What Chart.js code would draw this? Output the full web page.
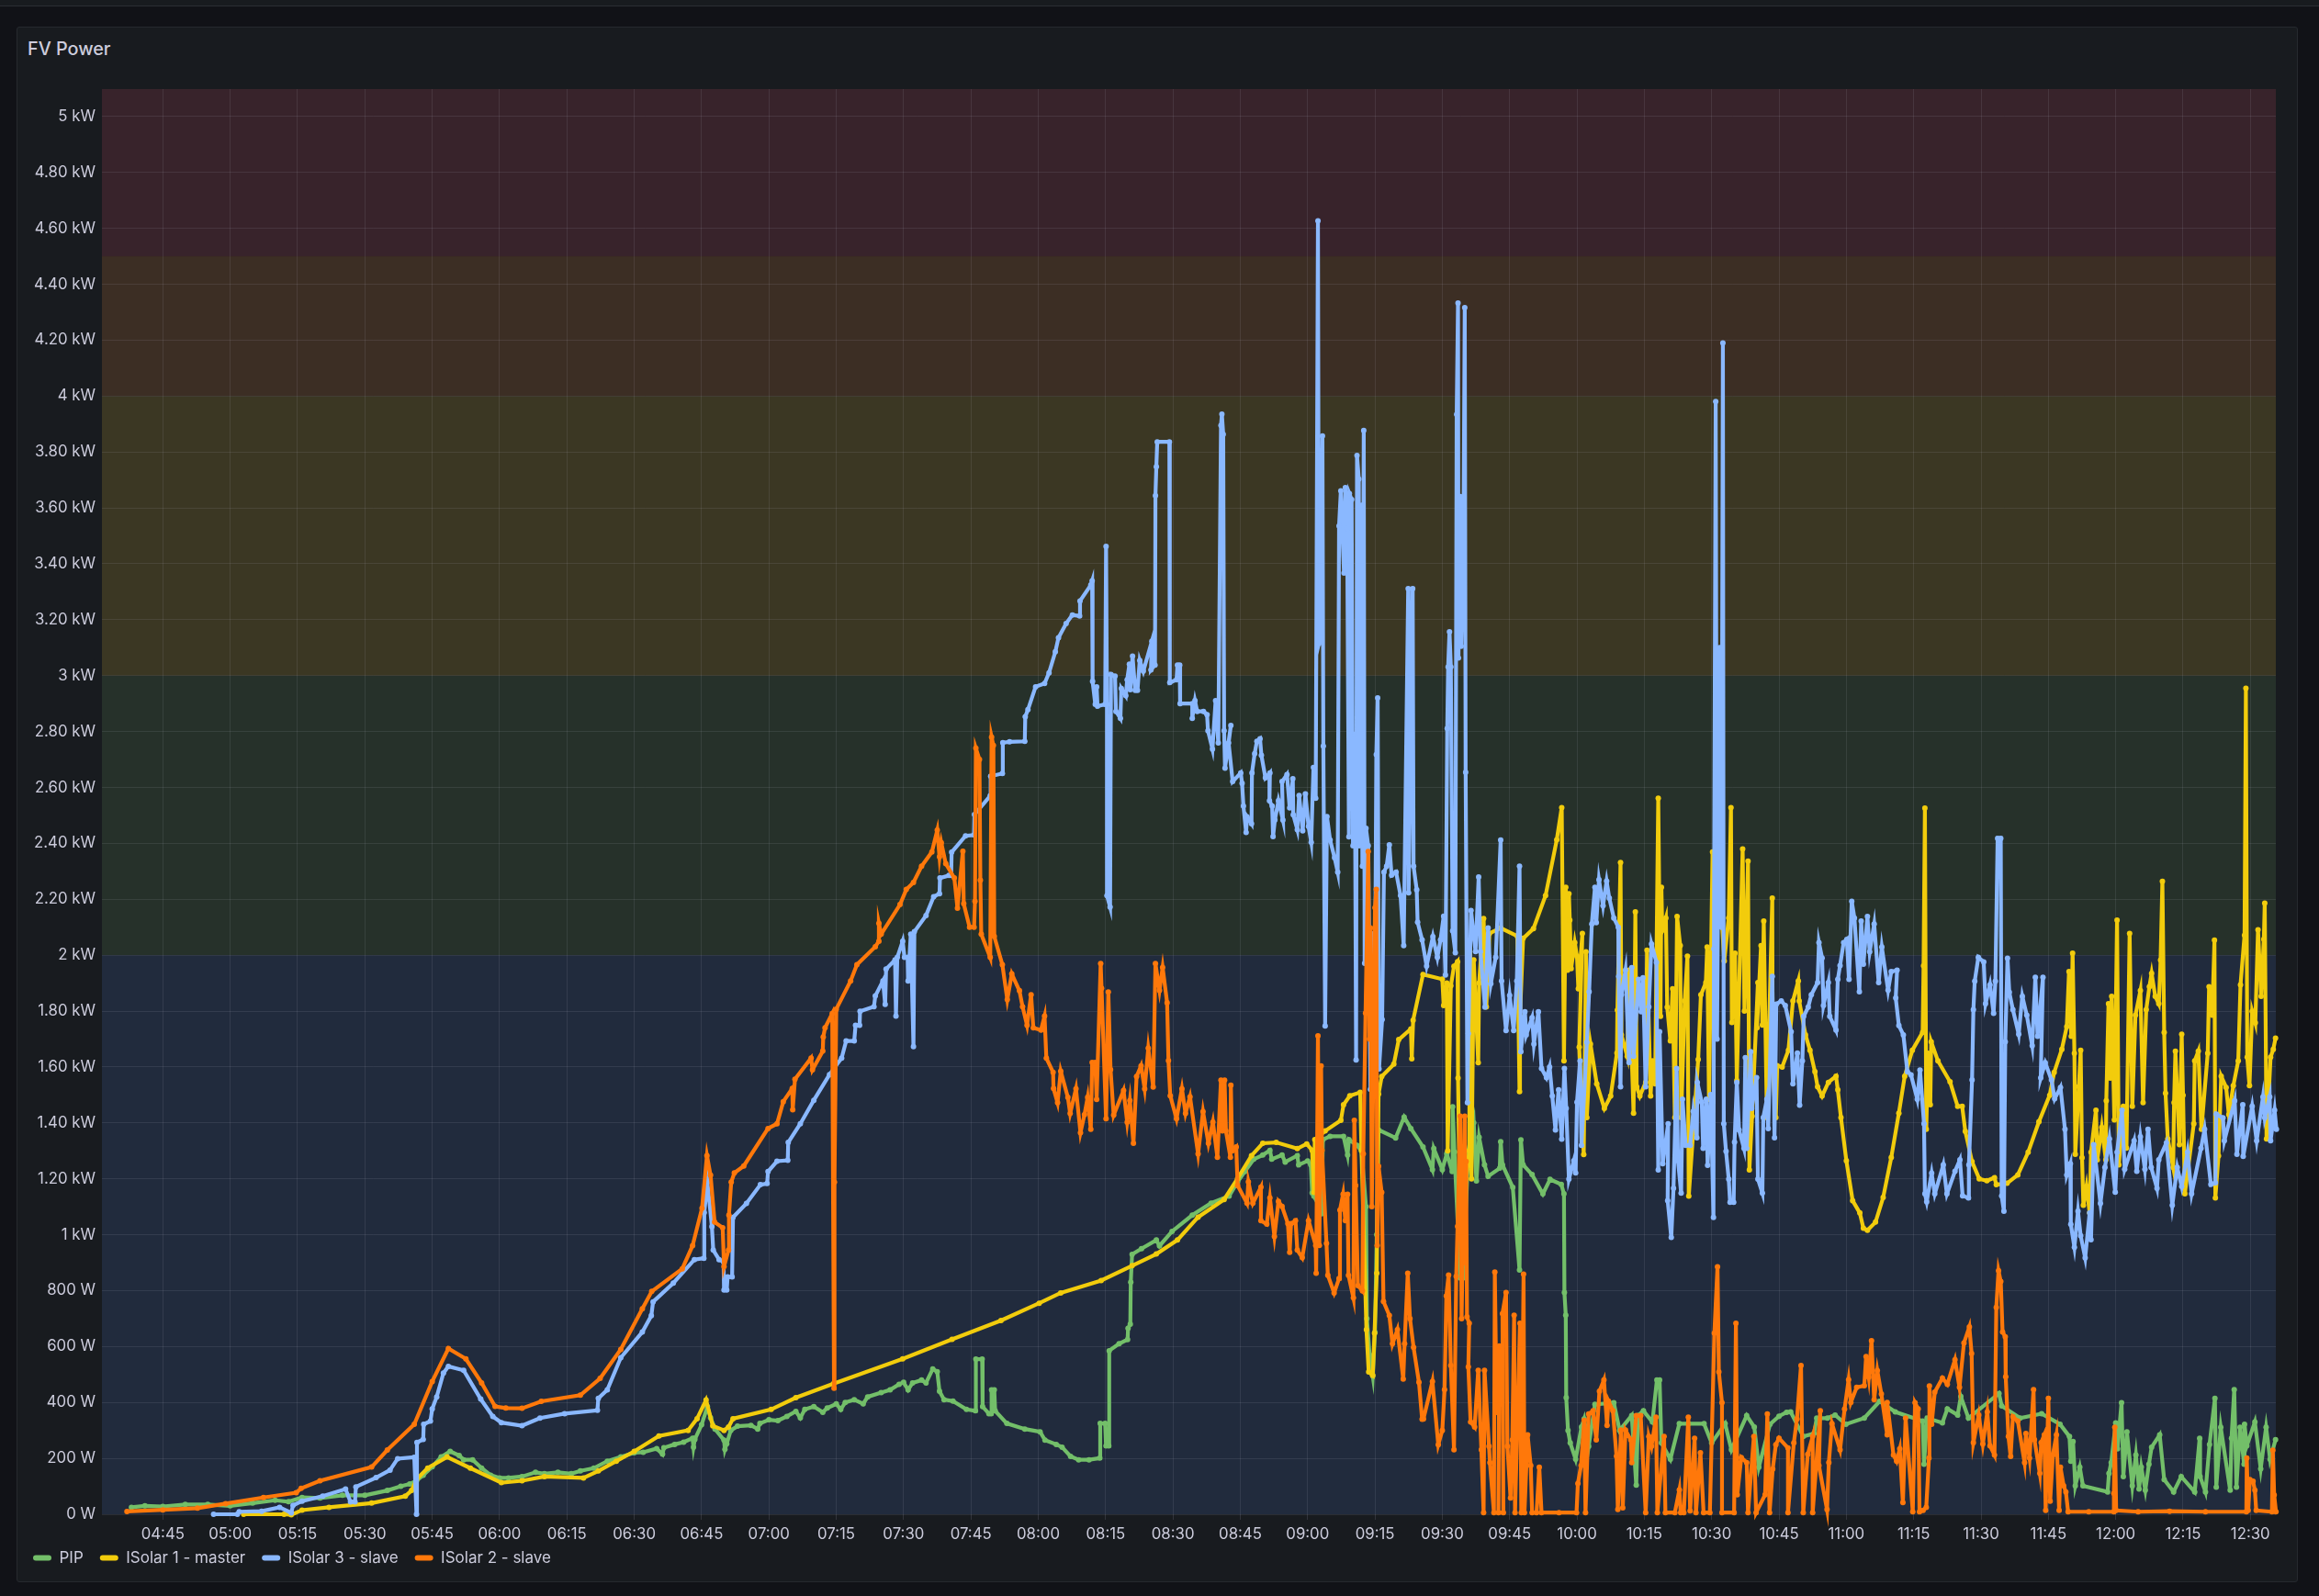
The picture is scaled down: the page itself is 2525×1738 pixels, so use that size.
<!DOCTYPE html>
<html><head><meta charset="utf-8">
<script src="https://cdn.jsdelivr.net/npm/chart.js@4"></script>
<style>
html,body{margin:0;padding:0;background:#111217;width:2525px;height:1738px;overflow:hidden}
#topbar{position:absolute;left:0;top:0;width:2525px;height:6px;background:#181b1f;border-bottom:1px solid #2b2e33}
#panel{position:absolute;left:18px;top:29px;width:2482px;height:1692px;background:#181b1f;border:1px solid #26292e;border-radius:3px}
#title{position:absolute;left:30px;top:41px;font:500 19.8px Inter,sans-serif;color:#ccccdc;line-height:24px}
canvas{position:absolute;left:0;top:0}
</style></head><body>
<div id="topbar"></div><div id="panel"></div><div id="title">FV Power</div>
<canvas id="c" width="2525" height="1738"></canvas>
<script>
const xMin=271.43, xMax=755.67, yMin=0, yMax=5098;
const xTickMinutes=[285,300,315,330,345,360,375,390,405,420,435,450,465,480,495,510,525,540,555,570,585,600,615,630,645,660,675,690,705,720,735,750];
const xTickLabels=["04:45","05:00","05:15","05:30","05:45","06:00","06:15","06:30","06:45","07:00","07:15","07:30","07:45","08:00","08:15","08:30","08:45","09:00","09:15","09:30","09:45","10:00","10:15","10:30","10:45","11:00","11:15","11:30","11:45","12:00","12:15","12:30"];
const yTickValues=[0,200,400,600,800,1000,1200,1400,1600,1800,2000,2200,2400,2600,2800,3000,3200,3400,3600,3800,4000,4200,4400,4600,4800,5000];
const yTickLabels=["0 W","200 W","400 W","600 W","800 W","1 kW","1.20 kW","1.40 kW","1.60 kW","1.80 kW","2 kW","2.20 kW","2.40 kW","2.60 kW","2.80 kW","3 kW","3.20 kW","3.40 kW","3.60 kW","3.80 kW","4 kW","4.20 kW","4.40 kW","4.60 kW","4.80 kW","5 kW"];
const bandStarts=[0,2000,3000,4000,4500];
const bandColors=["#212b3d","#26312a","#3b3723","#3c2e24","#38232b"];
const seriesNames=["PIP","ISolar 1 - master","ISolar 3 - slave","ISolar 2 - slave"];
const seriesColors=["#73bf69","#f2cc0c","#8ab8ff","#ff780a"];

// each entry: [minutes since midnight, watts]
const pipReadings=[[278,25],[281,30],[285,28],[290,35],[295,35],[300,30],[305,40],[310,50],[313,45],[316,60],[320,58],[325,68],[330,68],[335,85],[338,100],[340,108],[341.5,120],[343,140],[345,170],[347,205],[349,225],[351,210],[352,195],[354,195],[356,165],[358,140],[360,130],[362,130],[365,135],[368,150],[370,145],[373,150],[376,145],[378,155],[381,165],[384,190],[387,205],[390,220],[392,222],[395,235],[396.3,215],[396.6,238],[399,250],[401,258],[403,272],[403.2,240],[403.5,268],[405,320],[406.3,385],[407,345],[408,305],[410,265],[410.2,232],[410.6,252],[411.5,300],[413,315],[416,318],[417.5,305],[418,325],[420,338],[422,335],[424,350],[426,368],[427,345],[428,375],[430,385],[432,365],[433,380],[435,395],[436,375],[437,400],[439,410],[441,395],[442,420],[445,435],[447,445],[449,465],[450,472],[451,445],[452,470],[454,480],[455,470],[456.5,520],[457.5,510],[458,440],[459,410],[461,405],[464,375],[466,370],[466.1,555],[467.5,555],[467.6,385],[469,360],[469.5,360],[469.6,445],[470.2,445],[470.4,370],[473,325],[477,305],[480.4,295],[481.5,265],[484,250],[485.3,240],[487.2,207],[489,195],[491.3,195],[493.7,201],[493.8,325],[494.9,325],[495.1,245],[495.7,245],[495.8,585],[498,610],[499.9,625],[500,665],[500.5,680],[500.6,830],[500.9,930],[503,950],[506.3,981],[507,960],[509.8,1012],[514.3,1070],[518.5,1113],[522.5,1138],[524.4,1189],[526,1226],[528,1270],[530,1285],[531.6,1302],[532,1270],[534.3,1285],[535,1260],[537.7,1283],[538,1250],[540,1264],[540.7,1250],[541,1150],[541.4,1138],[541.6,1300],[543,1330],[543.1,1075],[543.4,1340],[545,1352],[548,1352],[548.9,1285],[549.2,1340],[551,1320],[552,1300],[553,1100],[553.2,700],[553.8,570],[554.5,495],[555,650],[555.4,1000],[555.8,1375],[559.6,1346],[561.5,1421],[563,1380],[565.7,1314],[567.8,1233],[568.1,1308],[570,1233],[571,1290],[572.2,1226],[572.3,1458],[572.7,1296],[574,845],[574.6,845],[575.8,1300],[577,1400],[577.6,1192],[578.2,1348],[579.4,1250],[580.2,1209],[582.8,1238],[583,1333],[583.4,1250],[585.7,1169],[587.2,874],[587.5,1339],[588,1250],[590,1215],[592.4,1146],[594,1198],[596.5,1180],[597.1,1146],[597.2,793],[597.5,712],[597.6,417],[598,300],[598.5,255],[599.7,197],[601,312],[601.6,341],[602.6,243],[604,393],[608.2,399],[609.5,300],[612.2,353],[613.2,104],[613.6,353],[614.8,370],[616.8,330],[617.8,480],[618.4,480],[618.8,255],[620.8,197],[622.8,324],[624.8,324],[628.3,324],[630,255],[633,324],[634.4,231],[637.8,353],[639.5,312],[640.5,168],[643,322],[645,351],[646.7,365],[647.6,366],[650.4,278],[652.8,289],[653.4,344],[655.8,344],[657.5,355],[659.9,322],[664,344],[667.4,404],[670.9,366],[677,333],[677.3,179],[678,344],[681.4,327],[682.5,377],[684.8,355],[685.5,421],[687.2,344],[694,432],[694.6,388],[698.7,344],[703.5,360],[707.6,322],[709.7,278],[710,190],[710.5,260],[711,102],[712,168],[712.7,102],[718.2,80],[718.5,146],[719,185],[720,327],[720.4,234],[721.3,399],[721.7,135],[722.5,295],[723.7,102],[724.5,212],[725.2,90],[725.7,168],[726.6,86],[727.4,179],[728,240],[729.8,284],[730.8,124],[732.9,80],[734.6,135],[737.6,80],[738.7,272],[738.8,135],[740,80],[740.9,250],[742.1,415],[742.4,97],[743.4,311],[745.5,86],[745.8,272],[746.4,446],[746.9,97],[747.7,311],[748.6,179],[748.7,322],[749.2,245],[751,330],[752.3,163],[753.5,311],[754.4,196],[755.6,267]];

const isolar1Readings=[[303,0],[312,0],[313.6,-2],[316,15],[322,25],[331.5,40],[339,65],[340.4,85],[341.5,125],[344,165],[348.3,205],[353.5,165],[360.4,113],[365,120],[370,135],[378.7,130],[382,155],[386,190],[390,225],[395.5,280],[402,300],[404,342],[406,409],[407.5,316],[410,300],[411,312],[412,342],[420.5,375],[426,417],[434.4,467],[449.8,556],[460.8,626],[471.7,693],[480.2,755],[485,792],[494,836],[500.9,889],[506.3,931],[511,981],[515.6,1063],[521.4,1126],[524.4,1201],[527.5,1283],[530,1327],[533,1330],[537.7,1308],[539.8,1325],[541,1302],[541.4,1151],[541.6,1340],[543.9,1371],[547.4,1409],[548,1465],[549.4,1497],[551.7,1509],[552,1302],[553.1,660],[553.6,509],[554.5,497],[554.9,648],[555.4,862],[555.8,1503],[556.5,1566],[559.2,1610],[560.3,1698],[563,1736],[563.2,1629],[563.5,1767],[565.7,1931],[570,1914],[570.3,1820],[571,1900],[571.2,1300],[571.9,1890],[572.6,1960],[573.4,1977],[573.5,1560],[574,1000],[576,1300],[576.2,2055],[576.5,1200],[577,1983],[578,1615],[578.2,1900],[579.2,2131],[579.8,1815],[580.5,2078],[583,2097],[586.7,2068],[587.2,1512],[587.3,1780],[588,2060],[590.3,2095],[593,2213],[595.5,2413],[596.6,2528],[597.1,1622],[597.5,2243],[597.9,1946],[598.2,2220],[598.4,2125],[598.7,1952],[599.5,2045],[600,1996],[600.3,1880],[601.2,2078],[600.5,1671],[601.5,1287],[602,2012],[602.2,1419],[603,1682],[604.4,1540],[606.1,1452],[607.5,1496],[608.9,1650],[609,1803],[609.7,2331],[609.9,1715],[611.2,1638],[611.6,1946],[612.6,1435],[613,2155],[613.3,1529],[614,1496],[615.3,1545],[615.6,2018],[616.4,1496],[616.8,1622],[617.4,1540],[618.1,2561],[618.6,1781],[618.8,2243],[619,2089],[619.8,2133],[620.1,1814],[620.8,1693],[621.3,1880],[621.8,1419],[622.3,2138],[623,2034],[623.2,1419],[624,1836],[624.6,1996],[624.9,1138],[627,1627],[627.6,1858],[628.7,1902],[629,2029],[629.4,1485],[630.2,2369],[631,2078],[631.7,2276],[632.8,1979],[633.8,2133],[634.3,2528],[634.5,1759],[635.2,2007],[635.6,1551],[636.9,2380],[637.3,1800],[638.1,2336],[638.4,1232],[639,1424],[640.3,1902],[640.1,1740],[641,2034],[641.3,1750],[641.6,2122],[642.3,1419],[643.5,2204],[643.6,1583],[644.3,1419],[644.6,1605],[645.7,1600],[647.1,1660],[648.1,1836],[649.3,1908],[649.5,1836],[650.9,1715],[651.9,1660],[653,1583],[653.6,1529],[654.6,1496],[656,1545],[657.7,1567],[658.1,1518],[658.8,1419],[660,1265],[661.4,1122],[663,1078],[663.8,1023],[664.7,1016],[666.5,1045],[668.2,1133],[670,1276],[671.7,1435],[673,1567],[674.7,1660],[677,1724],[677.2,1962],[677.5,2526],[677.8,1377],[678.2,1649],[678.7,1465],[678.9,1690],[680.4,1622],[683.1,1547],[684.8,1459],[685.8,1459],[686.5,1370],[688,1261],[689.6,1200],[691.3,1193],[693,1204],[693.4,1179],[695.8,1184],[698.2,1214],[700.5,1295],[702.9,1404],[705.3,1499],[706.3,1581],[708,1663],[709.1,1744],[709.6,1941],[710.1,1710],[710.4,2007],[710.8,1649],[711,1288],[711.8,1530],[712.2,1660],[712.5,1275],[712.8,1105],[713.5,1173],[714.2,1078],[714.5,1295],[715.6,1445],[715.9,1268],[716.9,1384],[717.8,1268],[717.9,1479],[718.4,1826],[718.8,1560],[719.1,1853],[719.7,1411],[720.3,2125],[720.7,1250],[721.7,1459],[722.4,1310],[723.1,2078],[723.7,1459],[724.4,1785],[725.5,1873],[726.1,1472],[726.8,1805],[727.5,1887],[728,1935],[728.8,1853],[729.6,1826],[730,1982],[730.4,2264],[730.8,1724],[731.1,1506],[731.6,1343],[732.8,1241],[733,1472],[733.3,1656],[734.2,1322],[734.7,1717],[735,1499],[735.4,1146],[737.4,1397],[737.6,1622],[738.4,1656],[739.1,1377],[740.5,1649],[740.8,1887],[741.5,1785],[742,2054],[742.2,1132],[742.9,1282],[743.5,1567],[744.6,1527],[745.2,1430],[746.2,1533],[747.3,1622],[747.8,1894],[748.7,2071],[749,2955],[749.3,1635],[749.8,1533],[750.4,1799],[751.1,1758],[751.7,2091],[752.4,1853],[753,2057],[753.2,2186],[753.6,1343],[754.5,1635],[755.1,1663],[755.6,1703]];

const isolar3Readings=[[296.3,0],[301.6,0],[302,9],[307,11],[311,25],[313.6,5],[314,32],[316,47],[320.6,65],[325.7,90],[326.8,44],[327.8,44],[328,98],[332.5,131],[335.6,158],[337.3,199],[341,204],[341.5,0],[341.6,257],[343,268],[343.1,322],[344.6,333],[345,377],[346,420],[347.5,505],[348.6,529],[352,515],[355.8,412],[358.5,350],[360.4,328],[365,317],[369,344],[374.5,360],[381.8,372],[382,415],[384,445],[387,560],[391.8,652],[393.8,710],[394.2,760],[398.7,827],[403.4,911],[405.5,916],[405.6,1079],[406.3,1188],[407.3,1029],[407.6,945],[408.9,911],[409.9,903],[410,802],[410.6,802],[410.8,849],[411.8,849],[412,1062],[415,1112],[418.1,1179],[419.6,1183],[419.8,1226],[421.8,1263],[424.2,1266],[424.3,1330],[427,1397],[430,1481],[433.5,1573],[436.2,1632],[437.2,1693],[439,1693],[439.3,1749],[440.2,1749],[440.3,1799],[443.4,1816],[443.7,1854],[445.4,1908],[445.9,1824],[446.1,1950],[448.1,1983],[448.3,1782],[448.6,1992],[449.8,2050],[450.2,1992],[450.9,1992],[451,1908],[451.6,2075],[452.2,1673],[452.4,2084],[455,2142],[456.7,2209],[458,2220],[458.1,2276],[460.1,2285],[460.6,2285],[460.7,2368],[463.8,2427],[465.7,2430],[465.8,2503],[469.3,2570],[469.4,2640],[472,2650],[472.1,2760],[473.6,2763],[477,2765],[477.1,2853],[477.7,2878],[479.4,2960],[481.4,2972],[482.4,3010],[483.8,3085],[484.5,3135],[486.2,3186],[487.6,3217],[489.2,3213],[489.3,3267],[491.7,3324],[492,3339],[492.1,2979],[492.7,2897],[493,2960],[493.2,2891],[494.9,2897],[495.1,3462],[495.3,2897],[495.3,2213],[496,2172],[496.2,3004],[497.1,2998],[497.3,2872],[498.3,2847],[498.5,2954],[499.5,2928],[499.8,2985],[500.3,3041],[500.5,2950],[501,3070],[501.6,2947],[502.1,2947],[502.6,3054],[503.4,3016],[505.3,3123],[505.1,3020],[506,3038],[506.1,3644],[506.3,3747],[506.5,3836],[509.2,3836],[509.3,2975],[510.8,2985],[511,3038],[511.5,3038],[511.6,2900],[514.3,2900],[514.3,2847],[514.9,2910],[515.4,2872],[516.8,2872],[517.6,2860],[517.8,2803],[518.8,2737],[519.5,2910],[520.1,2759],[520.7,3895],[520.9,3935],[521.2,3863],[521.4,2803],[521.6,2669],[522.9,2822],[522.4,2759],[523.3,2621],[525.1,2652],[525.4,2615],[525.7,2533],[526.3,2439],[526.5,2495],[527.5,2470],[527.6,2652],[528.2,2721],[528.7,2765],[529.4,2774],[529.7,2715],[530.6,2634],[531.6,2652],[531.5,2552],[532.1,2533],[532.3,2424],[532.7,2483],[533.5,2552],[534.5,2483],[534.3,2621],[535.4,2646],[536,2527],[536.7,2631],[536.8,2502],[537.7,2449],[538.1,2571],[538.9,2445],[539.5,2577],[540.2,2460],[540.8,2404],[541.3,2671],[541.8,2561],[542.3,4627],[542.5,3115],[542.8,3136],[543.3,3857],[543.5,2748],[543.9,1747],[544.3,2496],[545,2412],[546,2349],[546.7,2297],[547,3535],[547.4,3661],[548.1,3367],[548.4,3672],[548.8,3525],[549.2,2423],[549.3,3651],[549.8,3630],[550.1,2391],[550.5,2790],[550.8,1625],[551,3787],[551.4,3703],[551.5,2391],[552,3609],[552.2,2318],[552.5,3877],[552.7,1971],[553,2454],[553.5,2391],[554,1520],[554.4,2076],[554.9,1530],[555.3,2717],[555.6,2920],[555.9,1593],[556.6,1770],[557,2297],[557.6,2318],[558.2,2395],[558.7,2286],[559.7,2297],[560.7,2213],[561.4,2034],[562.4,3311],[562.5,2223],[563.4,3311],[563.6,2318],[564.3,2234],[564.5,2118],[565.5,2055],[566.5,1961],[567.9,2066],[568.9,1992],[569.6,2055],[570.3,2139],[570.7,1929],[571.1,2811],[571.3,3031],[571.6,3157],[571.9,3031],[572.3,2087],[572.9,2009],[573.2,3934],[573.5,4333],[573.6,3063],[574,3640],[574.2,3105],[574.7,3451],[575,4316],[575.2,2654],[575.6,1472],[575.8,1720],[576.4,2160],[577.4,2013],[578.1,2280],[578.5,2013],[579.5,1814],[580.2,2097],[580.8,1898],[581.9,1992],[583,2412],[583.2,1908],[584.2,1730],[585,1856],[585.9,1730],[586.6,1908],[587.2,2318],[587.5,1655],[588.4,1798],[588.7,1715],[590,1776],[590.4,1682],[591.4,1798],[592.1,1595],[593.2,1562],[593.9,1600],[594.5,1496],[595.2,1375],[595.9,1518],[596.6,1342],[597.2,1595],[597.6,1452],[598.2,1199],[599.3,1265],[599.7,1221],[600,1474],[600.7,1622],[601,1320],[602.2,1688],[602.7,1869],[603.3,2111],[604,2243],[604.3,2116],[604.9,2270],[605.8,2177],[606.6,2265],[607.2,2204],[608.2,2133],[609.2,2100],[609.3,1924],[609.7,1529],[609.9,1858],[610.8,1946],[611.6,1616],[612.2,1955],[612.6,1638],[613.7,1913],[614.3,1798],[614.7,1919],[615.3,1529],[616,1815],[616.6,2040],[617.7,1974],[618.1,1232],[618.4,1726],[619.1,1254],[620.3,1397],[620.2,1122],[621,990],[621.5,1166],[622.2,1595],[622.5,1265],[623.2,1149],[623.5,1485],[624.2,1320],[625.2,1320],[625.9,1441],[626.7,1347],[626.8,1545],[627.8,1474],[628.1,1309],[628.8,1485],[629.1,1248],[629.8,1501],[630.4,1062],[630.5,2023],[630.9,3980],[631.2,1700],[631.8,3100],[632.2,2100],[632.5,4190],[632.7,1397],[633.2,1298],[633.8,1199],[634.1,1116],[634.9,1116],[635.1,1331],[635.6,1545],[636.1,1375],[637.2,1309],[637.5,1633],[637.8,1309],[638.7,1655],[638.9,1452],[640,1562],[640.3,1199],[641.3,1149],[641.5,1419],[642.3,1485],[642.6,1380],[643.5,1924],[644,1347],[644.4,1825],[645.5,1836],[646.4,1820],[647.7,1726],[648.1,1540],[649.1,1650],[649.6,1463],[650.2,1622],[650.5,1781],[651.5,1814],[652.2,1858],[653.6,1902],[653.9,2045],[654.6,1990],[654.9,1820],[656,1902],[656.3,1781],[657.7,1732],[658.1,1913],[658.6,1963],[659.4,2045],[660.1,2056],[660.6,1913],[661.2,2193],[661.8,2133],[662.9,1869],[663.3,2122],[663.8,1968],[664.7,2138],[665.2,2012],[666.2,2111],[667.2,1902],[667.9,2029],[669.3,1875],[670,1941],[671.3,1946],[671,1847],[671.7,1748],[672.7,1715],[673.6,1583],[674.4,1572],[675.8,1485],[676.4,1589],[677.3,1397],[677.5,1146],[677.9,1118],[679,1220],[679.7,1146],[681.6,1250],[682.4,1146],[684.2,1227],[685.3,1268],[685.9,1139],[687.2,1132],[687.3,1250],[688,1554],[688.3,1805],[688.6,1907],[689.4,1992],[690.6,1976],[691,1826],[692,1894],[692.8,1792],[693.2,1907],[693.7,2418],[694.4,2418],[694.6,1139],[695.1,1084],[695.4,1690],[695.9,1989],[696.3,1867],[697.1,1805],[698.4,1717],[699.2,1853],[700.2,1785],[701.4,1676],[702.1,1921],[702.6,1710],[703.8,1921],[703.3,1561],[704.3,1615],[705.7,1554],[706.4,1486],[707.7,1527],[708.7,1377],[709.1,1214],[709.9,1254],[710,1037],[710.8,955],[711.6,1084],[712.2,996],[713.2,917],[714.2,1078],[714.5,982],[715.1,1322],[716.6,1112],[717.6,1241],[718.6,1343],[719.9,1152],[720.3,1295],[721.4,1445],[722,1234],[724.1,1336],[724.7,1227],[725.5,1350],[726.5,1234],[727.2,1377],[727.9,1241],[729.2,1166],[729.6,1268],[731.3,1329],[732.6,1105],[733.7,1241],[734.7,1173],[736,1295],[736.9,1146],[739,1309],[739.8,1377],[741.2,1180],[742.2,1186],[742.4,1431],[743.9,1418],[744.2,1336],[746.5,1479],[747,1288],[748.3,1465],[748.4,1280],[750.4,1459],[751.4,1336],[752.8,1493],[753.2,1418],[754.3,1493],[754.5,1336],[755.4,1445],[755.8,1377]];

const isolar2Readings=[[277,10],[285,16],[292.7,22],[299,38],[307.4,60],[314.7,77],[315.8,93],[320,120],[331.5,169],[335,230],[341,322],[345,475],[348.6,593],[352.5,556],[356,470],[359,386],[361.4,380],[365,379],[369.3,404],[378,426],[382.4,486],[387,590],[391.8,735],[393.9,797],[400.7,878],[403,961],[405.1,1095],[406.2,1283],[407,1213],[407.9,1045],[409.7,1025],[410,886],[411,945],[411.1,1070],[411.6,1188],[412.3,1221],[414.4,1246],[419.8,1380],[421.8,1397],[423.2,1476],[425.2,1523],[425.3,1447],[425.8,1556],[429.4,1632],[429.7,1590],[432,1657],[432.1,1707],[432.5,1740],[434.1,1791],[434.5,451],[434.6,1188],[435,1807],[438.2,1908],[439.6,1966],[443.7,2030],[444.5,2050],[444.5,2114],[445,2075],[449.2,2181],[450.6,2235],[452.2,2260],[454,2318],[456.3,2369],[457.5,2447],[458,2352],[458.4,2402],[459.4,2327],[461.3,2276],[462,2168],[463.2,2372],[463.4,2184],[464.7,2100],[465.7,2100],[465.9,2193],[466.1,2740],[466.9,2700],[467.1,2268],[467.3,2075],[469.3,1992],[469.6,2780],[470,2750],[470.2,2067],[472,1966],[473.1,1841],[474.1,1933],[475.8,1873],[476.5,1816],[477.5,1749],[478.4,1858],[478.9,1740],[480.6,1732],[481.4,1782],[481.8,1632],[483.3,1581],[483.4,1523],[484.3,1472],[485,1585],[486.6,1491],[487.1,1434],[488.4,1522],[489.4,1365],[490.3,1430],[491,1491],[491.7,1377],[492,1616],[492.7,1616],[493,1484],[493.9,1970],[494.1,1881],[495.1,1415],[495.6,1868],[496.1,1591],[496.8,1428],[499,1516],[499.8,1403],[500.4,1480],[501.2,1327],[501.9,1566],[502.9,1604],[503.7,1522],[504.5,1667],[505.6,1528],[506.1,1970],[507,1874],[507.7,1956],[508.7,1830],[509,1623],[509.4,1497],[510.8,1415],[512,1522],[512.8,1434],[513.8,1493],[515.6,1289],[516.7,1440],[517.9,1327],[518.9,1403],[519.9,1277],[520.7,1553],[521,1371],[521.5,1553],[521.8,1371],[522.8,1277],[522.9,1535],[523.2,1300],[524.1,1314],[524.4,1176],[526.5,1113],[526.8,1189],[527.8,1113],[529.6,1170],[529.6,1050],[530.9,1038],[531.6,1132],[532.6,994],[533.5,1119],[534.3,1101],[535.6,1040],[536,937],[536.3,1040],[537.3,1050],[537.7,945],[538.8,918],[540.2,1050],[541.8,962],[541.9,862],[542.3,1711],[542.6,962],[543,1604],[543.2,1302],[544.2,969],[544.5,855],[545.9,792],[547,843],[547.2,1088],[547.9,1145],[548.4,1050],[548.9,1145],[549.1,855],[550.2,774],[550.4,1409],[550.7,1176],[551.2,818],[552.2,799],[552.4,1289],[552.9,1793],[553.5,2371],[553.8,1700],[554,2097],[554.3,1100],[555,2170],[555.3,2235],[555.5,962],[555.8,1245],[556.5,1151],[556.9,761],[558.2,711],[558.9,610],[560,660],[561.3,484],[561.6,610],[562.3,862],[562.8,700],[563.6,597],[564.8,472],[565.5,340],[565.8,341],[567.8,475],[569.1,249],[570,300],[570.5,446],[570.9,781],[571.4,856],[571.9,532],[572.6,231],[573.1,851],[573.4,1030],[574,1424],[574.3,700],[575,1424],[575.1,900],[575.3,1262],[575.5,706],[576,683],[575.8,527],[576.3,330],[577.2,312],[578,515],[578.7,231],[579.2,6],[579.4,515],[580.4,243],[580.6,185],[581.5,6],[581.7,866],[582.1,365],[582.7,602],[582.5,6],[583.6,6],[583.4,718],[584.2,793],[584.5,243],[585.2,58],[585.6,266],[586,712],[586.2,6],[587.3,683],[587.6,6],[588.1,859],[588.3,6],[589,284],[589.7,174],[590,6],[591,6],[591.6,168],[592.1,6],[596,6],[599.9,6],[600.2,110],[600.9,174],[601.6,336],[601.9,6],[602.6,359],[603.6,370],[604.3,266],[605,440],[606,480],[606.7,318],[607,405],[608,370],[608.8,208],[609.1,17],[609.8,301],[610.2,23],[610.8,301],[612,266],[612.2,185],[613.2,353],[614.2,353],[615.3,6],[616,278],[616.6,243],[617.6,347],[617.9,6],[619.4,278],[619.7,6],[621.8,6],[622.8,87],[623.1,6],[623.8,6],[624.8,347],[625.2,12],[626.2,272],[626.5,6],[627.5,220],[628.2,6],[629.6,6],[630.6,648],[631.3,885],[631.6,509],[632.3,399],[632.3,6],[635,6],[635.4,683],[635.7,70],[636.6,203],[637.8,185],[638.1,6],[639.4,278],[639.9,6],[641.9,70],[642.4,359],[642.9,6],[643.6,162],[644.3,249],[645,272],[647,237],[647,6],[648.3,255],[649,341],[649.9,532],[650.4,6],[651.4,214],[652.5,278],[652.5,6],[654.2,370],[653.9,174],[655.7,17],[656.1,185],[656.8,324],[658.6,231],[659.6,376],[660.5,481],[661,400],[662.3,454],[664,460],[664.4,564],[665,490],[665.6,621],[666.2,410],[666.9,514],[667.8,430],[669.1,284],[669.1,400],[670.5,212],[671.2,190],[671.9,234],[672.6,42],[673.2,344],[674.8,9],[675.3,399],[676,377],[676.3,9],[677.1,14],[677.8,25],[678.4,201],[678.5,459],[679,322],[679.7,437],[681.4,487],[682.5,465],[684.2,553],[685.2,454],[686.2,613],[687.4,670],[687.9,575],[688.3,256],[689.5,355],[690.4,251],[691.4,366],[692,245],[693,212],[693.4,740],[693.9,871],[694.4,833],[694.8,652],[695.4,635],[695.5,492],[696.1,278],[696.6,207],[697.1,349],[698.2,333],[699.7,185],[700,289],[700.8,201],[701.7,446],[701.9,267],[703.1,146],[703.4,256],[704.1,284],[704.4,14],[705,415],[705.4,47],[706,212],[706.8,284],[707.4,14],[707.7,168],[708.4,102],[708.9,80],[709.4,9],[714,9],[719.6,9],[719.6,75],[719.8,311],[720.1,14],[725,9],[732,11],[740,9],[749.1,9],[749.2,201],[749.5,14],[749.9,124],[750.6,118],[751,86],[751.3,14],[754.8,9],[755,229],[755.3,69],[755.7,9]];

const seriesReadings=[pipReadings,isolar1Readings,isolar3Readings,isolar2Readings];

const bandsPlugin={id:'bands',beforeDraw(chart){
  const {ctx,chartArea:a,scales:{y}}=chart;
  bandStarts.forEach((start,i)=>{
    const top=i+1<bandStarts.length?y.getPixelForValue(bandStarts[i+1]):a.top;
    ctx.fillStyle=bandColors[i];
    ctx.fillRect(a.left,top,a.right-a.left,y.getPixelForValue(start)-top);
  });
}};

new Chart(document.getElementById('c'),{
  type:'line',
  plugins:[bandsPlugin],
  data:{datasets:seriesReadings.map((rows,i)=>({
    label:seriesNames[i],
    data:rows.map(r=>({x:r[0],y:r[1]})),
    borderColor:seriesColors[i],backgroundColor:seriesColors[i],
    pointBackgroundColor:seriesColors[i],pointBorderWidth:0,
    borderWidth:4.2,pointRadius:3,tension:0,fill:false,order:3-i,
    clip:false
  }))},
  options:{
    responsive:false,animation:false,parsing:false,normalized:false,
    layout:{padding:{left:18,right:47,top:97,bottom:23}},
    plugins:{
      title:{display:false},tooltip:{enabled:false},
      legend:{display:true,position:'bottom',align:'start',
        labels:{color:'#ccccdc',font:{family:'Inter',size:17},boxWidth:20,boxHeight:6,padding:18,useBorderRadius:true,borderRadius:3,
          generateLabels:c=>c.data.datasets.map((d,i)=>({text:d.label,fillStyle:d.borderColor,strokeStyle:d.borderColor,lineWidth:0,fontColor:'#ccccdc',datasetIndex:i,borderRadius:3}))}
      }
    },
    scales:{
      x:{type:'linear',min:xMin,max:xMax,
        afterBuildTicks:s=>{s.ticks=xTickMinutes.map(v=>({value:v}));},
        afterFit:s=>{s.height=21;s._computeLabelArea=()=>undefined;},
        border:{display:false},
        grid:{color:'rgba(204,204,220,0.11)',lineWidth:1,tickLength:6,drawTicks:true,tickColor:'rgba(204,204,220,0.15)'},
        ticks:{color:'#ccccdc',font:{family:'Inter',size:16.8},padding:6,autoSkip:false,maxRotation:0,
          callback:v=>xTickLabels[xTickMinutes.indexOf(v)]}
      },
      y:{type:'linear',min:yMin,max:yMax,
        afterBuildTicks:s=>{s.ticks=yTickValues.map(v=>({value:v}));},
        afterFit:s=>{s.width=93;},
        border:{display:false},
        grid:{color:'rgba(204,204,220,0.11)',lineWidth:1,drawTicks:false},
        ticks:{color:'#ccccdc',font:{family:'Inter',size:16.8},padding:7,autoSkip:false,
          callback:v=>yTickLabels[yTickValues.indexOf(v)]}
      }
    }
  }
});
</script>
</body></html>
